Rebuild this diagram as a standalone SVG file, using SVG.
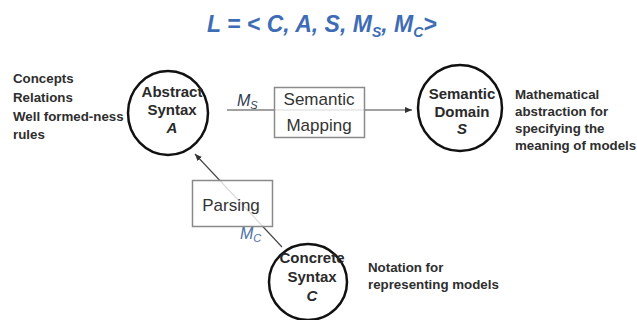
<svg xmlns="http://www.w3.org/2000/svg" width="637" height="320" viewBox="0 0 637 320">
  <style>
    .title { font-family: "Liberation Sans", Arial, sans-serif; font-size: 23px; font-weight: bold; font-style: italic; fill: #3e6db5; }
    .node-ring { fill: none; stroke: #111; stroke-width: 2.5; }
    .node-label { font-family: "Liberation Sans", Arial, sans-serif; font-size: 15px; font-weight: bold; fill: #2a2a2a; text-anchor: middle; }
    .box { fill: #fff; fill-opacity: 0.8; stroke: #8a8a8a; stroke-width: 1.5; }
    .box-label { font-family: "Liberation Sans", Arial, sans-serif; font-size: 17px; fill: #333; text-anchor: middle; }
    .note { font-family: "Liberation Sans", Arial, sans-serif; font-size: 13.3px; font-weight: bold; fill: #2e2e2e; }
    .edge { stroke: #444; stroke-width: 1.2; fill: none; }
    .edge-label { font-family: "Liberation Sans", Arial, sans-serif; font-size: 16px; font-style: italic; }
  </style>
  <defs>
    <marker id="arrow" markerUnits="userSpaceOnUse" markerWidth="8" markerHeight="8" refX="7" refY="4" orient="auto">
      <path d="M0,1 L7,4 L0,7 Z" fill="#333"/>
    </marker>
  </defs>

  <!-- Formula heading -->
  <g id="title">
    <text class="title" x="207" y="32">L = &lt; C, A, S, M<tspan font-size="14" dy="5">S</tspan><tspan dy="-5">, M</tspan><tspan font-size="14" dy="5">C</tspan><tspan dy="-5">&gt;</tspan></text>
  </g>

  <!-- Connectors: semantic mapping A -> S, parsing C -> A -->
  <g id="connectors">
    <line class="edge" x1="227" y1="110" x2="412" y2="110" marker-end="url(#arrow)"/>
    <line class="edge" x1="282" y1="247" x2="195" y2="154" marker-end="url(#arrow)"/>
    <text class="edge-label" x="237" y="106" fill="#2f3b55">M<tspan font-size="11" dy="3">S</tspan></text>
    <text class="edge-label" x="240" y="239" fill="#4a6fa8">M<tspan font-size="11" dy="3">C</tspan></text>
  </g>

  <!-- Mapping boxes -->
  <g id="semantic-mapping">
    <rect class="box" x="274.5" y="87.5" width="90" height="50"/>
    <text class="box-label" x="319" y="105">Semantic</text>
    <text class="box-label" x="319" y="131">Mapping</text>
  </g>
  <g id="parsing">
    <rect class="box" x="192.5" y="180.5" width="80" height="46"/>
    <text class="box-label" x="231" y="211">Parsing</text>
  </g>

  <!-- Language components -->
  <g id="abstract-syntax">
    <ellipse class="node-ring" cx="168" cy="113" rx="40" ry="42"/>
    <text class="node-label" x="172" y="97">Abstract</text>
    <text class="node-label" x="172" y="115">Syntax</text>
    <text class="node-label" x="172" y="133" font-style="italic">A</text>
  </g>
  <g id="semantic-domain">
    <ellipse class="node-ring" cx="460" cy="108" rx="42" ry="43"/>
    <text class="node-label" x="462" y="99">Semantic</text>
    <text class="node-label" x="462" y="117">Domain</text>
    <text class="node-label" x="462" y="134" font-style="italic">S</text>
  </g>
  <g id="concrete-syntax">
    <ellipse class="node-ring" cx="308" cy="282" rx="39" ry="38"/>
    <text class="node-label" x="312" y="263">Concrete</text>
    <text class="node-label" x="312" y="282">Syntax</text>
    <text class="node-label" x="312" y="301" font-style="italic">C</text>
  </g>

  <!-- Side notes -->
  <g id="abstract-notes">
    <text class="note" x="13" y="83">Concepts</text>
    <text class="note" x="13" y="102">Relations</text>
    <text class="note" x="13" y="121">Well formed-ness</text>
    <text class="note" x="13" y="139">rules</text>
  </g>
  <g id="semantic-notes">
    <text class="note" x="515" y="99">Mathematical</text>
    <text class="note" x="515" y="116">abstraction for</text>
    <text class="note" x="515" y="133">specifying the</text>
    <text class="note" x="515" y="150">meaning of models</text>
  </g>
  <g id="concrete-notes">
    <text class="note" x="368" y="272">Notation for</text>
    <text class="note" x="368" y="289">representing models</text>
  </g>
</svg>
